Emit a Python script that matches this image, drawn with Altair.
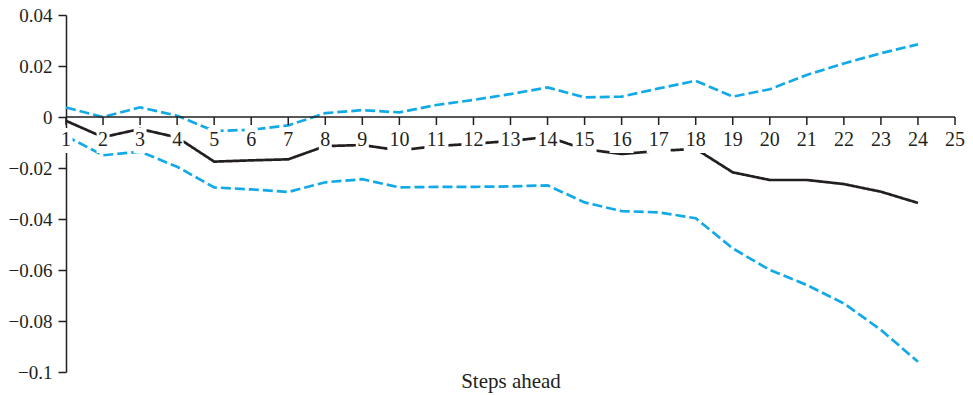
import altair as alt
import pandas as pd

steps = list(range(1, 25))
estimate = [-0.0015, -0.0079, -0.0047, -0.0080, -0.0175, -0.0170, -0.0166, -0.0114,
            -0.0110, -0.0131, -0.0114, -0.0105, -0.0094, -0.0078, -0.0126, -0.0145,
            -0.0133, -0.0125, -0.0217, -0.0247, -0.0247, -0.0263, -0.0293, -0.0337]
upper = [0.0037, 0.0000, 0.0038, 0.0005, -0.0055, -0.0050, -0.0033, 0.0015,
         0.0027, 0.0018, 0.0047, 0.0067, 0.0090, 0.0116, 0.0077, 0.0080,
         0.0112, 0.0142, 0.0080, 0.0109, 0.0165, 0.0210, 0.0250, 0.0285]
lower = [-0.0075, -0.0150, -0.0136, -0.0195, -0.0276, -0.0284, -0.0294, -0.0256,
         -0.0244, -0.0276, -0.0274, -0.0274, -0.0272, -0.0268, -0.0335, -0.0369,
         -0.0374, -0.0397, -0.0515, -0.0600, -0.0659, -0.0731, -0.0835, -0.0960]
axis_steps = list(range(1, 26))
y_ticks = [-0.1, -0.08, -0.06, -0.04, -0.02, 0, 0.02, 0.04]

FONT = "Liberation Serif"
BLUE = "#12aae6"
BLACK = "#231f20"

rows = []
for s, e, u, l in zip(steps, estimate, upper, lower):
    rows.append({"step": s, "value": e, "series": "estimate"})
    rows.append({"step": s, "value": u, "series": "upper"})
    rows.append({"step": s, "value": l, "series": "lower"})
lines_df = pd.DataFrame(rows)
axis_df = pd.DataFrame({"step": axis_steps})

xscale = alt.Scale(domain=[1, 25], nice=False, zero=False)
yscale = alt.Scale(domain=[-0.1, 0.04], nice=False, zero=False)

x_enc = alt.X("step:Q", scale=xscale,
              axis=alt.Axis(title="Steps ahead", domain=False, ticks=False, labels=False,
                            grid=False, titleFont=FONT, titleFontSize=21,
                            titleFontWeight="normal", titleColor=BLACK, titlePadding=-2))
y_enc = alt.Y("value:Q", scale=yscale,
              axis=alt.Axis(title=None, values=y_ticks, grid=False, domainColor=BLACK,
                            domainWidth=1.5, tickColor=BLACK, tickWidth=1.5, tickSize=8,
                            labelPadding=6, labelFont=FONT, labelFontSize=19,
                            labelColor=BLACK,
                            labelExpr="datum.value == 0 ? '0' : replace(format(datum.value, '~g'), '-', '\u2013')"))

lines = alt.Chart(lines_df).mark_line(strokeWidth=2.7).encode(
    x=x_enc,
    y=y_enc,
    detail="series:N",
    color=alt.Color("series:N", scale=alt.Scale(domain=["estimate", "upper", "lower"],
                                               range=[BLACK, BLUE, BLUE]), legend=None),
    strokeDash=alt.StrokeDash("series:N", scale=alt.Scale(domain=["estimate", "upper", "lower"],
                                                         range=[[1, 0], [10, 4], [10, 4]]),
                              legend=None),
)

label_boxes = alt.Chart(axis_df).transform_calculate(
    hw="(datum.step < 10 ? 6.5 : 12) / 37.04",
    x1="datum.step - datum.hw",
    x2="datum.step + datum.hw",
).mark_rect(color="white", yOffset=11, y2Offset=36).encode(
    x=alt.X("x1:Q", scale=xscale),
    x2="x2:Q",
    y=alt.datum(0, scale=yscale),
    y2=alt.datum(0),
)

axis_line = alt.Chart(axis_df).transform_aggregate(
    lo="min(step)", hi="max(step)"
).mark_rule(color=BLACK, strokeWidth=1.5).encode(
    x=alt.X("lo:Q", scale=xscale),
    x2="hi:Q",
    y=alt.datum(0, scale=yscale),
)

ticks = alt.Chart(axis_df).mark_rule(color=BLACK, strokeWidth=1.5, y2Offset=8).encode(
    x=alt.X("step:Q", scale=xscale),
    y=alt.datum(0, scale=yscale),
    y2=alt.datum(0),
)

labels = alt.Chart(axis_df).mark_text(font=FONT, fontSize=20, color=BLACK,
                                      baseline="middle", align="center", dy=23).encode(
    x=alt.X("step:Q", scale=xscale),
    y=alt.datum(0, scale=yscale),
    text="step:Q",
)

chart = alt.layer(lines, label_boxes, axis_line, ticks, labels).properties(
    width=889,
    height=357,
    padding={"left": 58, "top": 7, "right": 10, "bottom": 22},
    autosize=alt.AutoSizeParams(type="none"),
).configure_view(stroke=None)

chart.save("out.html", embed_options={"renderer": "svg", "actions": False})
